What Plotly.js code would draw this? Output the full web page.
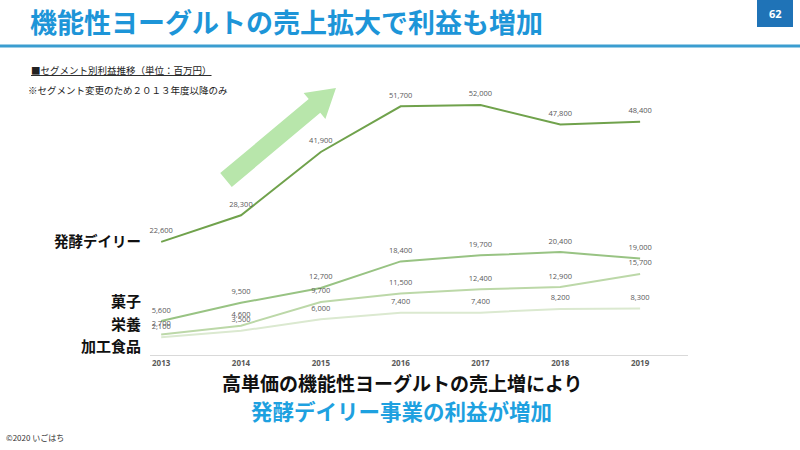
<!DOCTYPE html>
<html>
<head>
<meta charset="utf-8">
<script src="https://cdn.plot.ly/plotly-3.0.1.min.js"></script>
<style>html,body{margin:0;padding:0;background:#fff;}#chart{width:800px;height:450px;}</style>
</head>
<body>
<div id="chart"></div>
<script>
// ---- data ----
const years = ["2013", "2014", "2015", "2016", "2017", "2018", "2019"];
const seriesNames = ["発酵デイリー", "菓子", "栄養", "加工食品"];
const hakko = [22600, 28300, 41900, 51700, 52000, 47800, 48400];
const kashi = [5600, 9500, 12700, 18400, 19700, 20400, 19000];
const eiyo = [2700, 4600, 9700, 11500, 12400, 12900, 15700];
const kako = [2100, 3500, 6000, 7400, 7400, 8200, 8300];

const seriesValues = [hakko, kashi, eiyo, kako];
const seriesColors = ["#70a24c", "#98c383", "#bcd8a8", "#dbe9d0"];

// ---- layout helpers (pixel -> paper) ----
const L = 150, R = 688, T = 91, B = 355;
const W = R - L, H = B - T;
const px = x => (x - L) / W;
const py = y => (B - y) / H;

const fmt = v => v.toLocaleString("en-US");

const traces = seriesValues.map((vals, i) => ({
  type: "scatter",
  mode: "lines+markers+text",
  x: years,
  y: vals,
  name: seriesNames[i],
  text: vals.map(fmt),
  textposition: "top center",
  textfont: {family: "Open Sans, Noto Sans, sans-serif", size: 7.5, color: "#595959"},
  line: {color: seriesColors[i], width: 2},
  marker: {size: 9, opacity: 0, color: seriesColors[i]},
  cliponaxis: false,
  hoverinfo: "skip"
}));

const jp = "'Noto Sans CJK JP', 'Noto Sans', sans-serif";

const annotations = [
  {text: "<b>機能性ヨーグルトの売上拡大で利益も増加</b>", x: px(28), y: py(21), xanchor: "left", yanchor: "middle",
   font: {family: jp, size: 27, color: "#1d95d8"}},
  {text: "<b>62</b>", x: px(775), y: py(13), xanchor: "center", yanchor: "middle",
   font: {family: "Open Sans, sans-serif", size: 11, color: "#ffffff"}},
  {text: "<u>■セグメント別利益推移（単位：百万円）</u>", x: px(29), y: py(70), xanchor: "left", yanchor: "middle",
   font: {family: jp, size: 9.5, color: "#222222"}},
  {text: "※セグメント変更のため２０１３年度以降のみ", x: px(26), y: py(90), xanchor: "left", yanchor: "middle",
   font: {family: jp, size: 9.5, color: "#222222"}},
  {text: "<b>" + seriesNames[0] + "</b>", x: px(143), y: py(241), xanchor: "right", yanchor: "middle",
   font: {family: jp, size: 14.5, color: "#111111"}},
  {text: "<b>" + seriesNames[1] + "</b>", x: px(143), y: py(300), xanchor: "right", yanchor: "middle",
   font: {family: jp, size: 15, color: "#111111"}},
  {text: "<b>" + seriesNames[2] + "</b>", x: px(143), y: py(323), xanchor: "right", yanchor: "middle",
   font: {family: jp, size: 15, color: "#111111"}},
  {text: "<b>加工食品</b>", x: px(143), y: py(345), xanchor: "right", yanchor: "middle",
   font: {family: jp, size: 15, color: "#111111"}},
  {text: "<b>高単価の機能性ヨーグルトの売上増により</b>", x: px(402), y: py(382), xanchor: "center", yanchor: "middle",
   font: {family: jp, size: 19, color: "#111111"}},
  {text: "<b>発酵デイリー事業の利益が増加</b>", x: px(401), y: py(410), xanchor: "center", yanchor: "middle",
   font: {family: jp, size: 21.5, color: "#1ea1e0"}},
  {text: "©2020 いごはち", x: px(4), y: py(437), xanchor: "left", yanchor: "middle",
   font: {family: jp, size: 8, color: "#333333"}}
];
annotations.forEach(a => { a.xref = "paper"; a.yref = "paper"; a.showarrow = false; });

// arrow polygon in pixel space
const arrowPts = [[231.8,186.9],[320.3,112.8],[325.4,118.9],[336,88],[303.6,92.9],[308.7,99.0],[220.2,173.1]];
const arrowPath = "M " + arrowPts.map(p => px(p[0]).toFixed(4) + "," + py(p[1]).toFixed(4)).join(" L ") + " Z";

const shapes = [
  {type: "line", xref: "paper", yref: "paper", x0: px(0), x1: px(800), y0: py(46), y1: py(46),
   line: {color: "#3b9dd0", width: 3}},
  {type: "rect", xref: "paper", yref: "paper", x0: px(757), x1: px(793), y0: py(0), y1: py(27),
   fillcolor: "#1f73b7", line: {width: 0}},
  {type: "path", xref: "paper", yref: "paper", path: arrowPath, fillcolor: "#b8e6ab", line: {width: 0}, layer: "below"}
];

const layout = {
  width: 800, height: 450,
  margin: {l: L, r: 800 - R, t: T, b: 450 - B, pad: 0},
  paper_bgcolor: "#ffffff", plot_bgcolor: "#ffffff",
  showlegend: false,
  xaxis: {type: "category", range: [-0.14, 6.6], showgrid: false, zeroline: false,
          showline: true, linecolor: "#d9d9d9", linewidth: 1, ticks: "", ticklen: 0,
          tickfont: {family: "Open Sans, sans-serif", size: 8, color: "#595959", weight: "bold"}},
  yaxis: {range: [-1700, 55000], visible: false, showgrid: false, zeroline: false},
  annotations: annotations,
  shapes: shapes,
  hovermode: false
};

Plotly.newPlot("chart", traces, layout, {staticPlot: true, displayModeBar: false});
</script>
</body>
</html>
